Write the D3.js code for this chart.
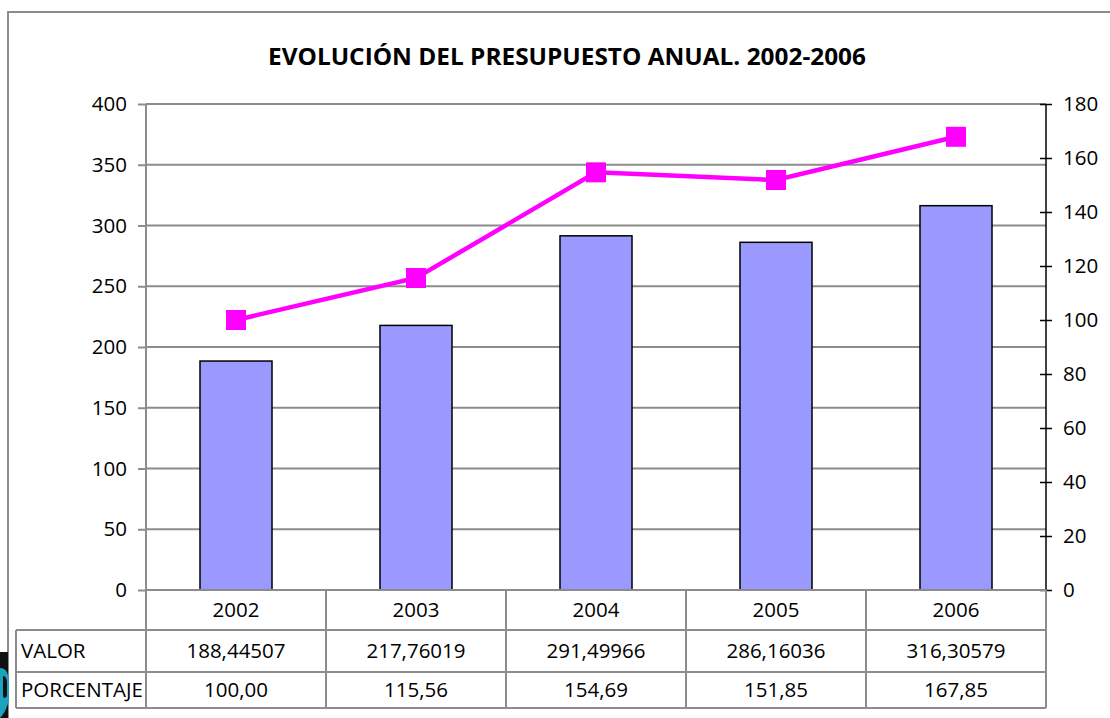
<!DOCTYPE html>
<html>
<head>
<meta charset="utf-8">
<script src="https://cdn.jsdelivr.net/npm/d3@7"></script>
<style>
	html, body { margin: 0; padding: 0; background: #fff; }
	svg { display: block; }
</style>
</head>
<body>
<svg id="chart" width="1110" height="718"></svg>
<script>
const years = ['2002', '2003', '2004', '2005', '2006'];
const valor = [188.44507, 217.76019, 291.49966, 286.16036, 316.30579];
const porcentaje = [100.00, 115.56, 154.69, 151.85, 167.85];
const valorLabels = ['188,44507', '217,76019', '291,49966', '286,16036', '316,30579'];
const porcLabels = ['100,00', '115,56', '154,69', '151,85', '167,85'];
const leftTicks = [0, 50, 100, 150, 200, 250, 300, 350, 400];
const rightTicks = [0, 20, 40, 60, 80, 100, 120, 140, 160, 180];
const rowNames = ['VALOR', 'PORCENTAJE'];

const font = '"Open Sans", "Noto Sans", sans-serif';
const fs = '20.5px';
const gridColor = '#8c8c8c';
const barColor = '#9999ff';
const lineColor = '#ff00ff';

let svg = d3.select('#chart');

// outer frame, it runs off the right and bottom edges
svg.append('rect')
	.attr('x', 8).attr('y', 12)
	.attr('width', 1130).attr('height', 730)
	.attr('fill', '#fff')
	.attr('stroke', gridColor).attr('stroke-width', 2);

// bit of another image peeking in at the bottom left
svg.append('rect').attr('x', 0).attr('y', 652).attr('width', 8).attr('height', 66).attr('fill', '#111');
svg.append('path')
	.attr('d', 'M0,668 Q9,668 9,684 L9,700 Q6,712 0,718 Z')
	.attr('fill', '#1aa3bf');
svg.append('path')
	.attr('d', 'M3,676 Q7,676 7,684 L7,696 Q4,700 3,696 Z')
	.attr('fill', '#111');

let plotL = 146, plotR = 1046, plotT = 104, plotB = 590;

let x = d3.scaleBand().domain(years).range([plotL, plotR]).padding(0);
let yL = d3.scaleLinear().domain([0, 400]).range([plotB, plotT]);
let yR = d3.scaleLinear().domain([0, 180]).range([plotB, plotT]);

// title
svg.append('text')
	.attr('x', 567).attr('y', 65)
	.attr('text-anchor', 'middle')
	.attr('font-family', font)
	.attr('font-weight', 'bold')
	.attr('font-size', '24px')
	.attr('textLength', 598).attr('lengthAdjust', 'spacingAndGlyphs')
	.attr('fill', '#000')
	.text('EVOLUCIÓN DEL PRESUPUESTO ANUAL. 2002-2006');

// grid
svg.append('g').selectAll('line')
	.data(leftTicks.filter(d => d > 0))
	.join('line')
	.attr('x1', plotL).attr('x2', plotR)
	.attr('y1', d => yL(d)).attr('y2', d => yL(d))
	.attr('stroke', gridColor).attr('stroke-width', 2);

// left axis
let gL = svg.append('g').attr('transform', `translate(${plotL},0)`)
	.call(d3.axisLeft(yL).tickValues(leftTicks).tickSize(8).tickPadding(11));
gL.select('.domain').attr('stroke', gridColor).attr('stroke-width', 2).attr('d', `M0,${plotT}V${plotB}`);
gL.selectAll('.tick line').attr('stroke', gridColor).attr('stroke-width', 2);
gL.selectAll('.tick text').attr('font-family', font).attr('font-size', fs).attr('fill', '#000');

// bars
let bw = x.bandwidth() * 0.4;
svg.append('g').selectAll('rect')
	.data(valor)
	.join('rect')
	.attr('x', (d, i) => x(years[i]) + x.bandwidth() / 2 - bw / 2)
	.attr('y', d => yL(d))
	.attr('width', bw)
	.attr('height', d => yL(0) - yL(d))
	.attr('fill', barColor)
	.attr('stroke', '#000').attr('stroke-width', 1.5);

// right axis
let gR = svg.append('g').attr('transform', `translate(${plotR},0)`)
	.call(d3.axisRight(yR).tickValues(rightTicks).tickSize(6).tickPadding(11));
gR.select('.domain').attr('stroke', '#000').attr('stroke-width', 1.5).attr('d', `M0,${plotT}V${plotB}`);
gR.selectAll('.tick line').attr('x1', -6).attr('stroke', '#000').attr('stroke-width', 1.5);
gR.selectAll('.tick text').attr('font-family', font).attr('font-size', fs).attr('fill', '#000');

// line + markers
let cx = (d, i) => x(years[i]) + x.bandwidth() / 2;
let line = d3.line().x(cx).y(d => yR(d));
svg.append('path')
	.datum(porcentaje)
	.attr('d', line)
	.attr('fill', 'none')
	.attr('stroke', lineColor).attr('stroke-width', 4.5);
let ms = 20;
svg.append('g').selectAll('rect')
	.data(porcentaje)
	.join('rect')
	.attr('x', (d, i) => cx(d, i) - ms / 2)
	.attr('y', d => yR(d) - ms / 2)
	.attr('width', ms).attr('height', ms)
	.attr('fill', lineColor);

// data table
let rowY = [590, 630, 672, 708];
let tbl = svg.append('g').attr('stroke', gridColor).attr('stroke-width', 2);
tbl.append('line').attr('x1', plotL).attr('x2', plotR).attr('y1', rowY[0]).attr('y2', rowY[0]);
rowY.slice(1).forEach(yy => {
	tbl.append('line').attr('x1', 16).attr('x2', plotR).attr('y1', yy).attr('y2', yy);
});
tbl.append('line').attr('x1', 16).attr('x2', 16).attr('y1', rowY[1]).attr('y2', rowY[3]);
years.forEach(yr => {
	tbl.append('line').attr('x1', x(yr)).attr('x2', x(yr)).attr('y1', rowY[0]).attr('y2', rowY[3]);
});
tbl.append('line').attr('x1', plotR).attr('x2', plotR).attr('y1', rowY[0]).attr('y2', rowY[3]);

let rows = [years, valorLabels, porcLabels];
rows.forEach((r, ri) => {
	let yc = (rowY[ri] + rowY[ri + 1]) / 2;
	svg.append('g').selectAll('text')
		.data(r)
		.join('text')
		.attr('x', (d, i) => x(years[i]) + x.bandwidth() / 2)
		.attr('y', yc)
		.attr('dy', '0.35em')
		.attr('text-anchor', 'middle')
		.attr('font-family', font).attr('font-size', fs)
		.attr('fill', '#000')
		.text(d => d);
});
rowNames.forEach((n, i) => {
	svg.append('text')
		.attr('x', 21)
		.attr('y', (rowY[i + 1] + rowY[i + 2]) / 2)
		.attr('dy', '0.35em')
		.attr('font-family', font).attr('font-size', fs)
		.attr('fill', '#000')
		.text(n);
});
</script>
</body>
</html>
